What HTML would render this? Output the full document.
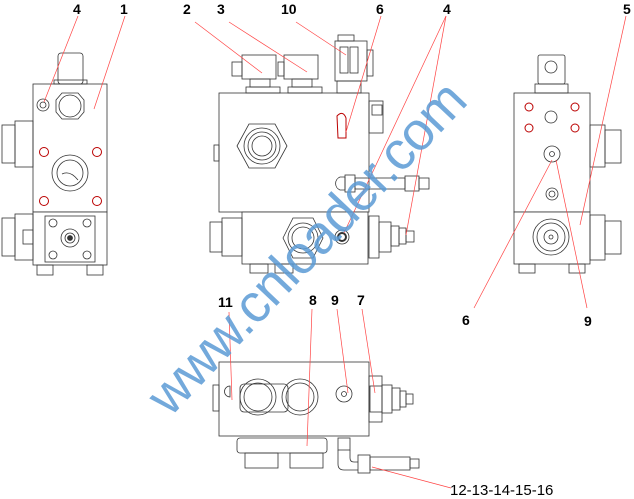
<!DOCTYPE html>
<html><head><meta charset="utf-8"><style>
html,body{margin:0;padding:0;background:#fff;}
svg{display:block;}
text{font-family:"Liberation Sans",Arial,sans-serif;}
</style></head><body>
<svg width="634" height="499" viewBox="0 0 634 499" xmlns="http://www.w3.org/2000/svg">
<g fill="none" stroke="#333" stroke-width="0.8">
<rect x="33" y="84" width="74" height="128" fill="#fff"/>
<rect x="33" y="212" width="74" height="53" fill="#fff"/>
<rect x="37" y="265" width="16" height="10"/>
<rect x="87" y="265" width="16" height="10"/>
<rect x="58" y="53" width="25" height="31" rx="3"/>
<rect x="54" y="80" width="33" height="4"/>
<polygon points="56,100 62,93 78,93 84,100 84,112 78,119 62,119 56,112"/>
<circle cx="70" cy="106" r="11"/>
<circle cx="43" cy="105" r="6"/><circle cx="43" cy="105" r="3"/>
<circle cx="70" cy="173" r="18"/><circle cx="70" cy="173" r="13"/>
<path d="M62,174 Q70,170 78,180"/>
<rect x="2" y="125" width="13" height="38"/><rect x="15" y="121" width="18" height="46"/>
<rect x="2" y="218" width="13" height="38"/><rect x="15" y="214" width="18" height="46"/>
<rect x="45" y="216" width="50" height="46"/>
<circle cx="53" cy="223" r="4"/><circle cx="87" cy="223" r="4"/><circle cx="53" cy="255" r="4"/><circle cx="87" cy="255" r="4"/>
<circle cx="70" cy="238" r="9"/><circle cx="70" cy="238" r="5"/><circle cx="70" cy="238" r="2.5" fill="#333"/>
<rect x="23" y="230" width="10" height="14"/>
<rect x="219" y="93" width="150" height="119" fill="#fff"/>
<rect x="242" y="212" width="126" height="52" fill="#fff"/>
<rect x="250" y="264" width="18" height="9"/><rect x="275" y="264" width="18" height="9"/>
<rect x="214" y="145" width="5" height="16"/>
<rect x="232" y="62" width="10" height="14"/><rect x="242" y="55" width="34" height="24"/><rect x="250" y="79" width="20" height="8"/><rect x="246" y="87" width="34" height="6"/>
<rect x="278" y="62" width="6" height="14"/><rect x="284" y="55" width="34" height="24"/><rect x="292" y="79" width="20" height="8"/><rect x="288" y="87" width="34" height="6"/>
<rect x="335" y="41" width="32" height="40"/><rect x="338" y="35" width="16" height="6"/>
<rect x="340" y="47" width="8" height="26"/><rect x="350" y="47" width="8" height="26"/>
<rect x="367" y="50" width="6" height="26"/><rect x="337" y="81" width="24" height="12"/>
<polygon points="237,146 249,124 275,124 287,146 275,168 249,168"/>
<circle cx="262" cy="146" r="18"/><circle cx="262" cy="146" r="14"/><circle cx="262" cy="146" r="10"/>
<rect x="369" y="101" width="14" height="32"/><rect x="372" y="105" width="10" height="10"/>
<path d="M345,177 h-5 a7,7 0 0 0 0,13 h5 z"/>
<rect x="345" y="175" width="10" height="17"/><rect x="355" y="178" width="50" height="11"/><rect x="405" y="176" width="14" height="15"/><rect x="419" y="178" width="10" height="11"/>
<polygon points="283,238 293,218 313,218 323,238 313,258 293,258"/>
<circle cx="303" cy="238" r="15"/><circle cx="303" cy="238" r="11"/>
<circle cx="342" cy="237" r="7"/><circle cx="342" cy="237" r="4" stroke-width="2"/>
<rect x="210" y="222" width="12" height="30"/><rect x="222" y="218" width="20" height="38"/>
<rect x="369" y="216" width="10" height="42"/><rect x="379" y="222" width="12" height="30"/><rect x="391" y="226" width="8" height="20"/><rect x="399" y="228" width="7" height="16"/><rect x="406" y="231" width="8" height="11"/>
<rect x="514" y="93" width="76" height="119" fill="#fff"/>
<rect x="514" y="212" width="76" height="52" fill="#fff"/>
<rect x="519" y="264" width="16" height="9"/><rect x="569" y="264" width="16" height="9"/>
<rect x="538" y="55" width="27" height="29" rx="2"/><circle cx="551" cy="67" r="6"/><rect x="535" y="84" width="33" height="9"/>
<circle cx="551" cy="117" r="6"/>
<circle cx="552" cy="154" r="8"/><circle cx="552" cy="154" r="2.5"/>
<circle cx="552" cy="194" r="6"/><circle cx="552" cy="194" r="3"/>
<circle cx="551" cy="237" r="18"/><circle cx="551" cy="237" r="14"/><circle cx="551" cy="237" r="7"/><circle cx="551" cy="237" r="2"/>
<rect x="590" y="125" width="15" height="42"/><rect x="605" y="130" width="16" height="33"/>
<rect x="590" y="215" width="15" height="45"/><rect x="605" y="221" width="16" height="33"/>
<rect x="219" y="362" width="150" height="74" fill="#fff"/>
<rect x="213" y="385" width="6" height="26"/>
<path d="M230,386 a5,5 0 0 0 0,11 z"/>
<rect x="240" y="384" width="48" height="28" rx="4"/>
<circle cx="258" cy="397" r="18"/><circle cx="258" cy="397" r="14"/>
<circle cx="300" cy="397" r="18"/><circle cx="300" cy="397" r="14"/>
<circle cx="344" cy="394" r="8"/><circle cx="344" cy="394" r="2.5"/>
<rect x="369" y="376" width="13" height="46"/><rect x="370" y="386" width="12" height="26"/><rect x="382" y="385" width="10" height="28"/><rect x="392" y="388" width="8" height="22"/><rect x="400" y="391" width="6" height="16"/><rect x="406" y="394" width="7" height="10"/>
<rect x="237" y="438" width="90" height="15" rx="3"/><rect x="245" y="453" width="33" height="15"/><rect x="290" y="453" width="33" height="15"/>
<rect x="338" y="438" width="12" height="12"/>
<path d="M338,450 v14 q0,6 6,6 h14 M350,450 v8 q0,4 4,4 h4"/>
<rect x="358" y="455" width="12" height="18"/><rect x="370" y="457" width="40" height="13"/><rect x="410" y="459" width="9" height="9"/>
</g>
<g fill="none" stroke="#b00" stroke-width="1">
<circle cx="44" cy="152" r="4.5"/><circle cx="97" cy="152" r="4.5"/><circle cx="44" cy="201" r="4.5"/><circle cx="97" cy="201" r="4.5"/>
<circle cx="529" cy="107" r="4"/><circle cx="575" cy="107" r="4"/><circle cx="529" cy="128" r="4"/><circle cx="575" cy="128" r="4"/>
<path d="M337,116 q6,-6 9,2 v20 h-8 z"/>
</g>
<g stroke="#f44" stroke-width="0.7" fill="none">
<line x1="78" y1="16" x2="44" y2="102"/>
<line x1="125" y1="16" x2="94" y2="109"/>
<line x1="195" y1="22" x2="262" y2="73"/>
<line x1="229" y1="22" x2="307" y2="72"/>
<line x1="296" y1="22" x2="346" y2="55"/>
<line x1="381" y1="16" x2="346" y2="132"/>
<line x1="446" y1="16" x2="344" y2="233"/>
<line x1="446" y1="16" x2="406" y2="235"/>
<line x1="626" y1="16" x2="580" y2="225"/>
<line x1="474" y1="308" x2="552" y2="160"/>
<line x1="587" y1="308" x2="556" y2="160"/>
<line x1="229" y1="312" x2="232" y2="400"/>
<line x1="312" y1="309" x2="307" y2="446"/>
<line x1="337" y1="309" x2="348" y2="393"/>
<line x1="362" y1="309" x2="375" y2="393"/>
<line x1="451" y1="488" x2="372" y2="467"/>
</g>
<g font-size="14" font-weight="bold" fill="#000">
<text x="73" y="14">4</text><text x="120" y="14">1</text>
<text x="183" y="14">2</text><text x="217" y="14">3</text><text x="281" y="14">10</text>
<text x="376" y="14">6</text><text x="443" y="14">4</text><text x="623" y="14">5</text>
<text x="462" y="325">6</text><text x="584" y="326">9</text>
<text x="218" y="307">11</text><text x="309" y="305">8</text><text x="331" y="305">9</text><text x="357" y="305">7</text>
<text x="450" y="495" font-size="15" font-weight="normal">12-13-14-15-16</text>
</g>
<text x="0" y="0" transform="translate(170,418) rotate(-46.5)" font-size="54" fill="#5b9bd5" opacity="0.85" letter-spacing="-1">www.cnloader.com</text>
</svg>
</body></html>
